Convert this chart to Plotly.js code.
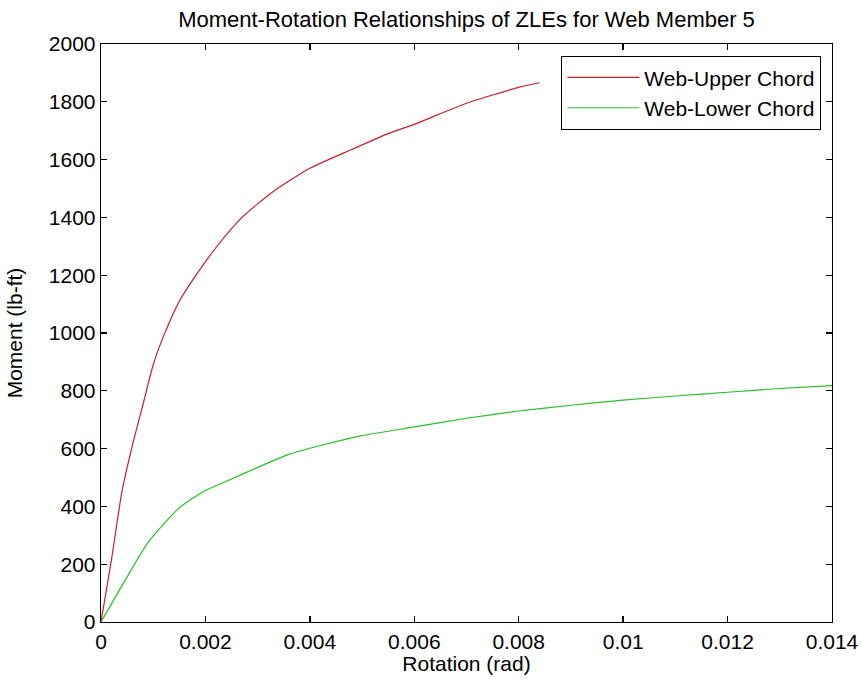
<!DOCTYPE html>
<html>
<head>
<meta charset="utf-8">
<script src="https://cdn.plot.ly/plotly-3.0.1.min.js"></script>
<style>
  html, body { margin: 0; padding: 0; background: #fff; }
  #chart { width: 862px; height: 685px; }
</style>
</head>
<body>
<div id="chart"></div>
<script>
// Web-Upper Chord moment-rotation curve
const upperRotation = [0, 0.0002, 0.0004, 0.0006, 0.0008, 0.001, 0.0012, 0.0015, 0.0018, 0.0022,
                       0.0027, 0.0033, 0.004, 0.0048, 0.0055, 0.006, 0.007, 0.008, 0.0084];
const upperMoment = [0, 215, 450, 610, 750, 890, 990, 1110, 1195, 1295,
                     1400, 1490, 1570, 1635, 1690, 1722, 1795, 1850, 1866];

// Web-Lower Chord moment-rotation curve
const lowerRotation = [0, 0.0004, 0.0009, 0.0015, 0.002, 0.0025, 0.003, 0.0036, 0.0043, 0.005,
                       0.006, 0.007, 0.008, 0.009, 0.01, 0.011, 0.012, 0.013, 0.014];
const lowerMoment = [0, 125, 275, 395, 455, 495, 535, 580, 615, 645,
                     675, 705, 730, 750, 768, 782, 795, 808, 818];

const xTickVals = [0, 0.002, 0.004, 0.006, 0.008, 0.01, 0.012, 0.014];
const xTickText = ['0', '0.002', '0.004', '0.006', '0.008', '0.01', '0.012', '0.014'];
const yTickVals = [0, 200, 400, 600, 800, 1000, 1200, 1400, 1600, 1800, 2000];
const yTickText = ['0', '200', '400', '600', '800', '1000', '1200', '1400', '1600', '1800', '2000'];

const FONT = 'Liberation Sans, Arial, sans-serif';
const TEXT_SIZE = 21;

const traces = [
  {
    x: upperRotation, y: upperMoment, type: 'scatter', mode: 'lines',
    name: 'Web-Upper Chord',
    line: { color: 'rgb(200,30,40)', width: 1.2, shape: 'spline', smoothing: 0.6 }
  },
  {
    x: lowerRotation, y: lowerMoment, type: 'scatter', mode: 'lines',
    name: 'Web-Lower Chord',
    line: { color: 'rgb(40,190,40)', width: 1.2, shape: 'spline', smoothing: 0.6 }
  }
];

const axisCommon = {
  showgrid: false, zeroline: false,
  showline: true, linecolor: '#000', linewidth: 1.3, mirror: 'allticks',
  ticks: 'inside', ticklen: 6, tickwidth: 1.3, tickcolor: '#000',
  tickfont: { family: FONT, size: TEXT_SIZE, color: '#000' }
};

const layout = {
  width: 862, height: 685,
  margin: { l: 101, r: 30, t: 44, b: 63 },
  paper_bgcolor: '#fff', plot_bgcolor: '#fff',
  font: { family: FONT, color: '#000' },
  title: {
    text: 'Moment-Rotation Relationships of ZLEs for Web Member 5',
    font: { family: FONT, size: 22, color: '#000' },
    x: 0.5 * (101 + 832) / 862, xanchor: 'center', y: 1 - 19 / 685, yanchor: 'middle'
  },
  xaxis: Object.assign({}, axisCommon, {
    range: [0, 0.014], tickvals: xTickVals, ticktext: xTickText,
    title: { text: 'Rotation (rad)', font: { family: FONT, size: TEXT_SIZE, color: '#000' }, standoff: 2 }
  }),
  yaxis: Object.assign({}, axisCommon, {
    range: [0, 2000], tickvals: yTickVals, ticktext: yTickText,
    title: { text: 'Moment (lb-ft)', font: { family: FONT, size: TEXT_SIZE, color: '#000' }, standoff: 20 }
  }),
  showlegend: true,
  legend: {
    x: (821 - 101) / 731, xanchor: 'right', y: (622 - 56) / 578, yanchor: 'top',
    bgcolor: '#fff', bordercolor: '#000', borderwidth: 1.3,
    font: { family: FONT, size: TEXT_SIZE, color: '#000' },
    itemwidth: 72, tracegroupgap: 0
  }
};

Plotly.newPlot('chart', traces, layout, { displayModeBar: false, staticPlot: true });
</script>
</body>
</html>
